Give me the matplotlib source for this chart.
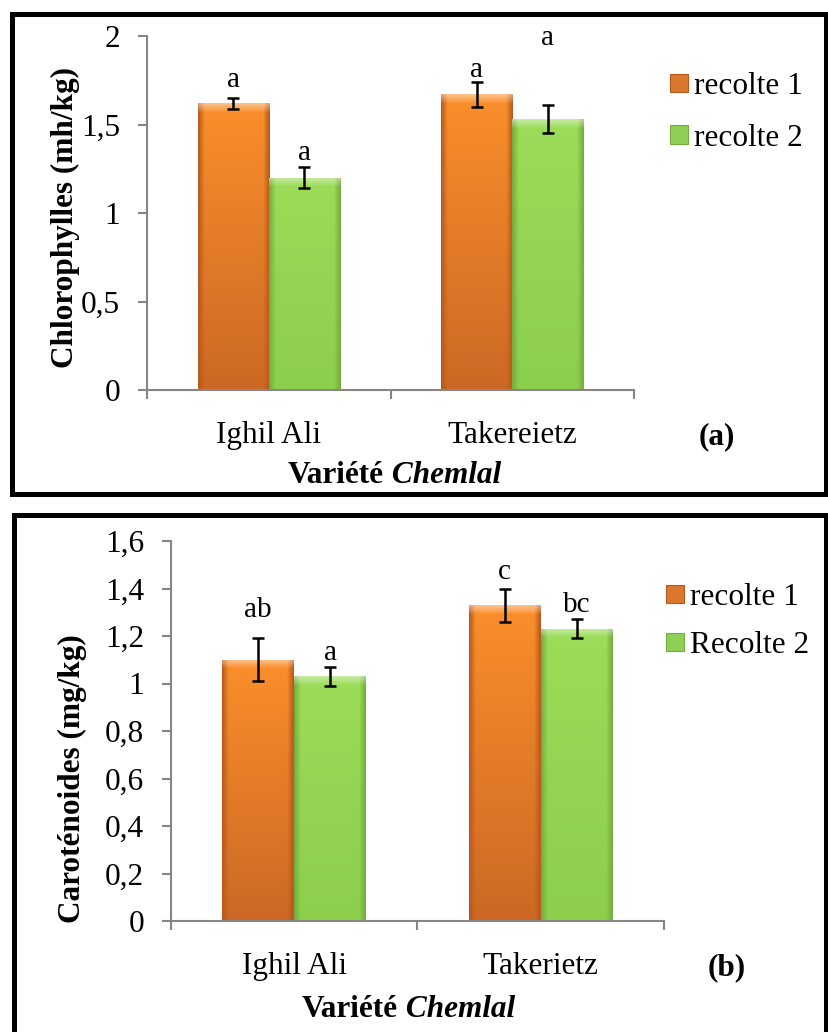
import numpy as np
import matplotlib.pyplot as plt
from matplotlib.patches import Rectangle
from matplotlib.colors import to_rgb
from matplotlib.ticker import FixedLocator, FuncFormatter

plt.rcParams['font.family'] = ['Liberation Serif', 'DejaVu Serif']

# --- données : chlorophylles (a) ---
varietes_a = ['Ighil Ali', 'Takereietz']
recolte1_a = [1.62, 1.67]
recolte2_a = [1.20, 1.53]
err1_a = [0.03, 0.07]
err2_a = [0.06, 0.08]
lettres1_a = ['a', 'a']
lettres2_a = ['a', 'a']
legende_a = ['recolte 1', 'recolte 2']

# --- données : caroténoides (b) ---
varietes_b = ['Ighil Ali', 'Takerietz']
recolte1_b = [1.10, 1.33]
recolte2_b = [1.03, 1.23]
err1_b = [0.09, 0.07]
err2_b = [0.04, 0.04]
lettres1_b = ['ab', 'c']
lettres2_b = ['a', 'bc']
legende_b = ['recolte 1', 'Recolte 2']

# hauteur des lettres de Duncan (unités y)
pos_l1_a = [1.75, 1.81]
pos_l2_a = [1.34, 1.99]
pos_l1_b = [1.31, 1.47]
pos_l2_b = [1.13, 1.33]

W, H = 829, 1032
FS = 22.5
GRIS = '#868686'
ORANGE = dict(haut='#fb8f2c', bas='#cc6824', bord='#b85a1c', leg='#d9782c')
VERT = dict(haut='#9bdc58', bas='#8ccf4d', bord='#74ad3e', leg='#90cf55')

fig = plt.figure(figsize=(W / 100, H / 100), dpi=100)


def fx(x):
    return x / W


def fy(y):
    return 1 - y / H


def degrade(ax, bar, c):
    """remplit une barre avec un dégradé façon Excel (biseau en haut)"""
    x0, y0 = bar.get_x(), bar.get_y()
    w, h = bar.get_width(), bar.get_height()
    p0 = ax.transData.transform((x0, y0))
    p1 = ax.transData.transform((x0 + w, y0 + h))
    nx, ny = max(int(p1[0] - p0[0]), 2), max(int(p1[1] - p0[1]), 2)
    t = np.linspace(0, 1, ny)[:, None, None]
    img = (1 - t) * np.array(to_rgb(c['haut'])) + t * np.array(to_rgb(c['bas']))
    img = np.broadcast_to(img, (ny, nx, 3)).copy()
    # bords latéraux plus sombres
    s = np.abs(np.linspace(-1, 1, nx))
    e = np.clip((s - 0.82) / 0.18, 0, 1)[None, :, None]
    img = img * (1 - e) + np.array(to_rgb(c['bord'])) * e
    # biseau clair sur le dessus
    r = np.arange(ny)[:, None, None]
    b = np.clip(1 - r / 9.0, 0, 1) * 0.45
    img = img * (1 - b) + b
    im = ax.imshow(img, extent=[x0, x0 + w, y0, y0 + h], origin='upper',
                   aspect='auto', zorder=2, interpolation='bilinear')
    im.set_clip_path(bar)


def panneau(box, varietes, r1, r2, e1, e2, l1, l2, p1, p2, ymax, pas,
            ylabel, ylab_pos, xlab_pos, lettre, lettre_pos, legende, leg_pos, legsp):
    left, top, right, bottom = box
    ax = fig.add_axes([fx(left), fy(bottom), fx(right - left), (bottom - top) / H])
    ax.set_xlim(-0.5, 1.5)
    ax.set_ylim(0, ymax)
    x = np.arange(len(varietes))
    w = 0.292

    for vals, errs, lets, lpos, c, dx in [(r1, e1, l1, p1, ORANGE, -w / 2),
                                          (r2, e2, l2, p2, VERT, w / 2)]:
        bars = ax.bar(x + dx, vals, w, color=c['leg'], edgecolor='none', zorder=1)
        for bar in bars:
            degrade(ax, bar, c)
        ax.errorbar(x + dx, vals, yerr=errs, fmt='none', ecolor='black',
                    elinewidth=1.8, capsize=4.3, capthick=1.8, zorder=4)
        for xi, yi, t in zip(x + dx, lpos, lets):
            ax.text(xi, yi, t, ha='center', va='center', fontsize=21)

    ax.set_xlim(-0.5, 1.5)
    ax.set_ylim(0, ymax)

    for s in ['top', 'right']:
        ax.spines[s].set_visible(False)
    for s in ['left', 'bottom']:
        ax.spines[s].set_color(GRIS)
        ax.spines[s].set_linewidth(1.5)

    ax.set_yticks(np.arange(0, ymax + 1e-9, pas))
    ax.yaxis.set_major_formatter(FuncFormatter(lambda v, _: f'{round(v, 1):g}'.replace('.', ',')))
    ax.xaxis.set_major_locator(FixedLocator([-0.5, 0.5, 1.5]))
    ax.xaxis.set_major_formatter(FuncFormatter(lambda v, _: ''))
    ax.xaxis.set_minor_locator(FixedLocator(x))
    ax.set_xticklabels(varietes, minor=True)
    ax.tick_params(axis='both', which='major', length=6.5, width=1.5, color=GRIS,
                   labelsize=FS, direction='out')
    ax.tick_params(axis='y', pad=13)
    ax.tick_params(axis='x', which='minor', length=0, labelsize=FS, pad=22)

    fig.text(fx(ylab_pos[0]), fy(ylab_pos[1]), ylabel, rotation=90, ha='center',
             va='center', fontsize=FS, fontweight='bold')
    t1 = fig.text(fx(xlab_pos[0]), fy(xlab_pos[1]), 'Variété', ha='left',
                  va='baseline', fontsize=FS, fontweight='bold')
    ax.annotate(' Chemlal', xy=(1, 0), xycoords=t1, ha='left', va='bottom',
                fontsize=FS, fontweight='bold', fontstyle='italic')
    fig.text(fx(lettre_pos[0]), fy(lettre_pos[1]), lettre, ha='center', va='center',
             fontsize=FS, fontweight='bold')

    handles = [Rectangle((0, 0), 1, 1, fc=c['leg'], ec=c['bord'], lw=0.8)
               for c in (ORANGE, VERT)]
    ax.legend(handles, legende, loc='upper left',
              bbox_to_anchor=(fx(leg_pos[0]), fy(leg_pos[1])),
              bbox_transform=fig.transFigure, frameon=False, fontsize=FS,
              handlelength=0.58, handleheight=0.52, handletextpad=0.2,
              labelspacing=legsp, borderaxespad=0, borderpad=0)
    return ax


panneau((147, 36, 634, 390), varietes_a, recolte1_a, recolte2_a, err1_a, err2_a,
        lettres1_a, lettres2_a, pos_l1_a, pos_l2_a, 2.0, 0.5,
        'Chlorophylles (mh/kg)', (65, 217), (288, 483), '(a)', (717, 437),
        legende_a, (670, 72), 0.72)

panneau((171, 541, 664, 921), varietes_b, recolte1_b, recolte2_b, err1_b, err2_b,
        lettres1_b, lettres2_b, pos_l1_b, pos_l2_b, 1.6, 0.2,
        'Caroténoides (mg/kg)', (72, 779), (302, 1017), '(b)', (727, 968),
        legende_b, (666, 583), 0.62)

# cadres noirs autour des deux figures
fig.add_artist(Rectangle((fx(12), fy(494)), fx(826 - 12), (494 - 14) / H,
                         transform=fig.transFigure, fill=False, ec='black', lw=3.6))
fig.add_artist(Rectangle((fx(14), fy(1045)), fx(826 - 14), (1045 - 515) / H,
                         transform=fig.transFigure, fill=False, ec='black', lw=3.6))

fig.savefig('out.png', dpi=100, facecolor='white')
